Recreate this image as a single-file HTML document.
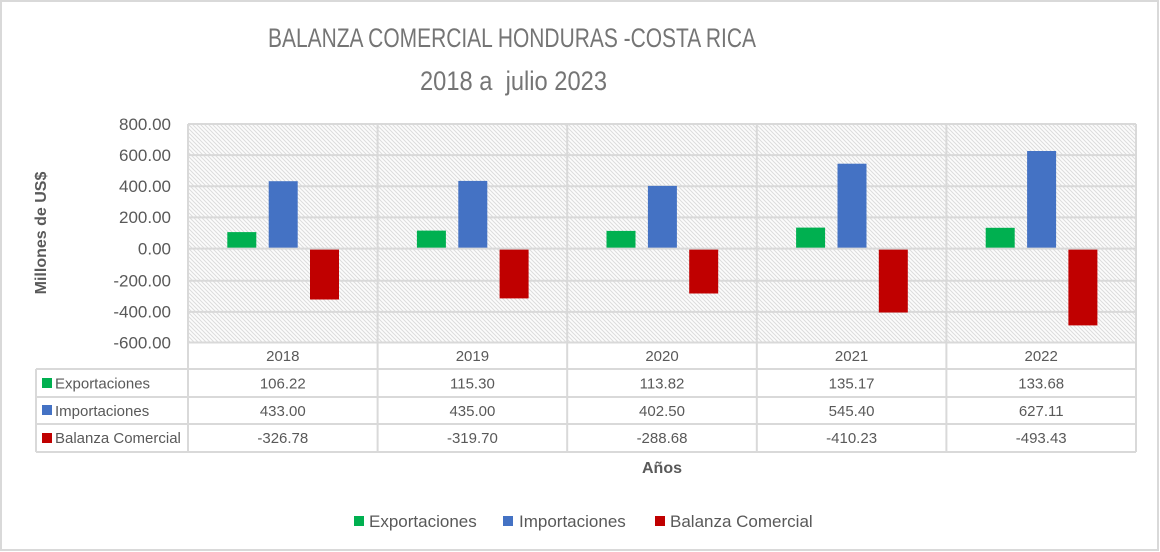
<!DOCTYPE html>
<html><head><meta charset="utf-8"><style>
html,body{margin:0;padding:0;background:#fff;}
svg{display:block;font-family:"Liberation Sans",sans-serif;}
</style></head><body>
<svg width="1160" height="552" viewBox="0 0 1160 552" xmlns="http://www.w3.org/2000/svg">
<defs>
<pattern id="h" width="4" height="4" patternUnits="userSpaceOnUse">
<rect width="4" height="4" fill="#fcfcfc"/>
<path d="M-1,-1 L5,5 M-1,3 L1,5 M3,-1 L5,1" stroke="#dcdcdc" stroke-width="1"/>
</pattern>
</defs>
<rect x="0" y="0" width="1160" height="552" fill="#fff"/>
<rect x="1" y="1" width="1157" height="549" fill="none" stroke="#d9d9d9" stroke-width="2"/>

<text x="268" y="47" font-size="27" fill="#757575" textLength="488" lengthAdjust="spacingAndGlyphs">BALANZA COMERCIAL HONDURAS -COSTA RICA</text>
<text x="420" y="90" font-size="27" fill="#757575" textLength="187" lengthAdjust="spacingAndGlyphs" style="white-space:pre">2018 a  julio 2023</text>

<rect x="188" y="124" width="948" height="218" fill="url(#h)"/>
<g stroke="#d9d9d9" stroke-width="2">
<line x1="188" y1="124" x2="1136" y2="124"/>
<line x1="188" y1="155.1" x2="1136" y2="155.1"/>
<line x1="188" y1="186.3" x2="1136" y2="186.3"/>
<line x1="188" y1="217.4" x2="1136" y2="217.4"/>
<line x1="188" y1="280.7" x2="1136" y2="280.7"/>
<line x1="188" y1="311.9" x2="1136" y2="311.9"/>
<line x1="188" y1="342.5" x2="1136" y2="342.5"/>
</g>

<g>
<rect x="227.3" y="232.1" width="29" height="16.5" fill="#00b050"/>
<rect x="268.7" y="181.2" width="29" height="67.4" fill="#4472c4"/>
<rect x="310" y="248.6" width="29" height="50.9" fill="#c00000"/>

<rect x="416.9" y="230.6" width="29" height="18" fill="#00b050"/>
<rect x="458.3" y="180.9" width="29" height="67.7" fill="#4472c4"/>
<rect x="499.6" y="248.6" width="29" height="49.8" fill="#c00000"/>

<rect x="606.5" y="230.9" width="29" height="17.7" fill="#00b050"/>
<rect x="647.9" y="185.9" width="29" height="62.7" fill="#4472c4"/>
<rect x="689.2" y="248.6" width="29" height="44.9" fill="#c00000"/>

<rect x="796.1" y="227.6" width="29" height="21" fill="#00b050"/>
<rect x="837.5" y="163.7" width="29" height="84.9" fill="#4472c4"/>
<rect x="878.8" y="248.6" width="29" height="63.9" fill="#c00000"/>

<rect x="985.7" y="227.8" width="29" height="20.8" fill="#00b050"/>
<rect x="1027.1" y="151" width="29" height="97.6" fill="#4472c4"/>
<rect x="1068.4" y="248.6" width="29" height="76.8" fill="#c00000"/>
</g>
<line x1="188" y1="248.6" x2="1136" y2="248.6" stroke="#d9d9d9" stroke-width="2"/>

<g stroke="#d9d9d9" stroke-width="2">
<line x1="188" y1="124" x2="188" y2="452"/>
<line x1="377.6" y1="124" x2="377.6" y2="452"/>
<line x1="567.2" y1="124" x2="567.2" y2="452"/>
<line x1="756.8" y1="124" x2="756.8" y2="452"/>
<line x1="946.4" y1="124" x2="946.4" y2="452"/>
<line x1="1136" y1="124" x2="1136" y2="452"/>
<line x1="36" y1="369" x2="36" y2="452"/>
<line x1="36" y1="369" x2="1136" y2="369"/>
<line x1="36" y1="397" x2="1136" y2="397"/>
<line x1="36" y1="424" x2="1136" y2="424"/>
<line x1="36" y1="452" x2="1136" y2="452"/>
</g>

<g font-size="17" fill="#595959" text-anchor="end">
<text x="171" y="130">800.00</text>
<text x="171" y="161">600.00</text>
<text x="171" y="192">400.00</text>
<text x="171" y="223">200.00</text>
<text x="171" y="254.5">0.00</text>
<text x="171" y="286.5">-200.00</text>
<text x="171" y="317.5">-400.00</text>
<text x="171" y="348.5">-600.00</text>
</g>
<text transform="translate(46,233) rotate(-90)" font-size="16" font-weight="bold" fill="#595959" text-anchor="middle">Millones de US$</text>

<g font-size="15" fill="#595959" text-anchor="middle">
<text x="282.8" y="361">2018</text>
<text x="472.4" y="361">2019</text>
<text x="662" y="361">2020</text>
<text x="851.6" y="361">2021</text>
<text x="1041.2" y="361">2022</text>

<text x="282.8" y="388.5">106.22</text>
<text x="472.4" y="388.5">115.30</text>
<text x="662" y="388.5">113.82</text>
<text x="851.6" y="388.5">135.17</text>
<text x="1041.2" y="388.5">133.68</text>

<text x="282.8" y="416">433.00</text>
<text x="472.4" y="416">435.00</text>
<text x="662" y="416">402.50</text>
<text x="851.6" y="416">545.40</text>
<text x="1041.2" y="416">627.11</text>

<text x="282.8" y="443">-326.78</text>
<text x="472.4" y="443">-319.70</text>
<text x="662" y="443">-288.68</text>
<text x="851.6" y="443">-410.23</text>
<text x="1041.2" y="443">-493.43</text>
</g>
<rect x="42" y="378" width="10" height="10" fill="#00b050"/>
<rect x="42" y="405" width="10" height="10" fill="#4472c4"/>
<rect x="42" y="433" width="10" height="10" fill="#c00000"/>
<g font-size="15" fill="#595959">
<text x="55" y="388.5">Exportaciones</text>
<text x="55" y="416">Importaciones</text>
<text x="55" y="443">Balanza Comercial</text>
</g>

<text x="662" y="473" font-size="16" font-weight="bold" fill="#595959" text-anchor="middle">Años</text>

<rect x="354" y="516" width="10" height="10" fill="#00b050"/>
<text x="369" y="527" font-size="17" fill="#595959">Exportaciones</text>
<rect x="503" y="516" width="10" height="10" fill="#4472c4"/>
<text x="519" y="527" font-size="17" fill="#595959">Importaciones</text>
<rect x="655" y="516" width="10" height="10" fill="#c00000"/>
<text x="670" y="527" font-size="17" fill="#595959">Balanza Comercial</text>
</svg>
</body></html>
